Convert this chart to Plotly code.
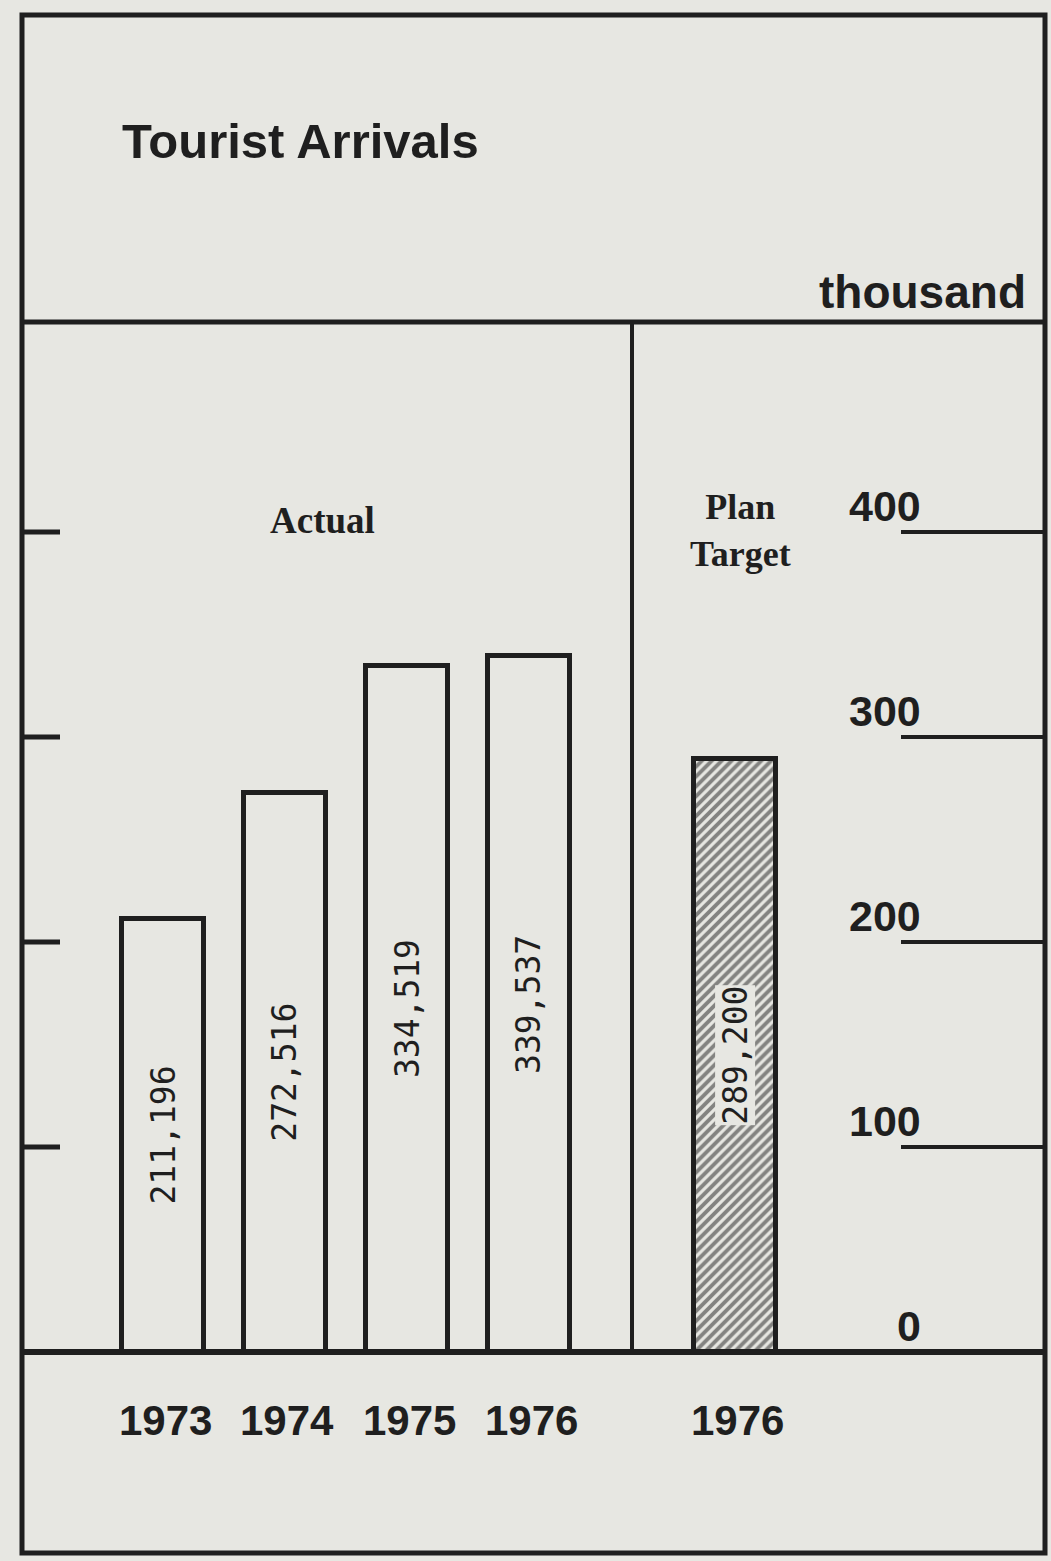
import plotly.graph_objects as go

# ---------------- data ----------------
years_actual = ["1973", "1974", "1975", "1976"]
arrivals_actual = [211196, 272516, 334519, 339537]
year_plan = ["1976"]
arrivals_plan = [289200]
y_tick_values = [0, 100, 200, 300, 400]          # thousand
left_tick_values = [100, 200, 300, 400]
title_text = "Tourist Arrivals"
unit_text = "thousand"
actual_label = "Actual"
plan_label = "Plan<br>Target"

# ---------------- style ----------------
BG = "#e7e7e2"
INK = "#1f1f1f"
SANS = "Liberation Sans, Arial, sans-serif"
SERIF = "Liberation Serif, DejaVu Serif, serif"
MONO = "DejaVu Sans Mono, Liberation Mono, monospace"

W, H = 1051, 1561
ML, MR, MT, MB = 22, 6, 322, 209
pw = W - ML - MR
ph = H - MT - MB

# category slots on a numeric axis (layout positions)
slot_actual = [i for i in range(len(years_actual))]
slot_plan = [len(years_actual) + 0.69]
x_range = [-1.156, 7.23]
y_range = [0, 502.4]
bar_w = 0.67

def to_k(v):
    return v / 1000.0

def px_x(px):
    return (px - ML) / pw

def px_y(py):
    return (MT + ph - py) / ph

fig = go.Figure()
fig.add_trace(go.Bar(
    x=slot_actual, y=[to_k(v) for v in arrivals_actual], width=bar_w,
    marker=dict(color=BG, line=dict(color=INK, width=5)),
    hoverinfo="skip", showlegend=False))
fig.add_trace(go.Bar(
    x=slot_plan, y=[to_k(v) for v in arrivals_plan], width=bar_w,
    marker=dict(color=BG, line=dict(color=INK, width=5),
                pattern=dict(shape="/", fgcolor=INK, bgcolor=BG, size=7, solidity=0.55)),
    hoverinfo="skip", showlegend=False))

ann = []
# values inside bars (vertical)
for x, v in zip(slot_actual, arrivals_actual):
    ann.append(dict(x=x, y=to_k(v) / 2, xref="x", yref="y", text=f"{v:,}",
                    textangle=-90, showarrow=False, font=dict(family=MONO, size=33, color=INK)))
for x, v in zip(slot_plan, arrivals_plan):
    ann.append(dict(x=x, y=to_k(v) / 2, xref="x", yref="y", text=f"{v:,}",
                    textangle=-90, showarrow=False, bgcolor=BG, borderpad=0,
                    font=dict(family=MONO, size=33, color=INK)))
# year labels under baseline
for x, t in zip(slot_actual + slot_plan, years_actual + year_plan):
    ann.append(dict(x=x + 0.02, y=px_y(1420), xref="x", yref="paper", text=t, showarrow=False,
                    yanchor="middle", xanchor="center",
                    font=dict(family=SANS, size=42, color=INK, weight="bold")))
# right-hand scale numbers, sitting above their tick lines
for t in y_tick_values:
    ann.append(dict(x=px_x(923), y=t, xref="paper", yref="y", text=str(t), showarrow=False,
                    xanchor="right", yanchor="bottom", yshift=0,
                    font=dict(family=SANS, size=43, color=INK, weight="bold")))
# titles and headers
ann.append(dict(x=px_x(120), y=px_y(141), xref="paper", yref="paper",
                text=title_text, showarrow=False, xanchor="left", yanchor="middle",
                font=dict(family=SANS, size=49, color=INK, weight="bold")))
ann.append(dict(x=px_x(1028), y=px_y(292), xref="paper", yref="paper",
                text=unit_text, showarrow=False, xanchor="right", yanchor="middle",
                font=dict(family=SANS, size=46, color=INK, weight="bold")))
ann.append(dict(x=px_x(322), y=px_y(520), xref="paper", yref="paper", text=actual_label, showarrow=False,
                xanchor="center", yanchor="middle",
                font=dict(family=SERIF, size=37, color=INK, weight="bold")))
ann.append(dict(x=px_x(740), y=px_y(530), xref="paper", yref="paper", text=plan_label, showarrow=False,
                xanchor="center", yanchor="middle",
                font=dict(family=SERIF, size=36, color=INK, weight="bold")))

shapes = []
# outer frame
shapes.append(dict(type="rect", xref="paper", yref="paper", x0=0, x1=1,
                   y0=px_y(1553), y1=px_y(15), line=dict(color=INK, width=5)))
# header rule and baseline
shapes.append(dict(type="line", xref="paper", yref="paper", x0=0, x1=1, y0=1, y1=1,
                   line=dict(color=INK, width=5)))
shapes.append(dict(type="line", xref="paper", yref="paper", x0=0, x1=1, y0=0, y1=0,
                   line=dict(color=INK, width=6)))
# divider between actual and plan
shapes.append(dict(type="line", xref="paper", yref="paper", x0=px_x(632), x1=px_x(632),
                   y0=0, y1=1, line=dict(color=INK, width=4)))
# left ticks
for t in left_tick_values:
    shapes.append(dict(type="line", xref="paper", yref="y", x0=0, x1=px_x(60), y0=t, y1=t,
                       line=dict(color=INK, width=5)))
# right tick rules
for t in left_tick_values:
    shapes.append(dict(type="line", xref="paper", yref="y", x0=px_x(901), x1=1, y0=t, y1=t,
                       line=dict(color=INK, width=4)))

fig.update_layout(
    width=W, height=H, autosize=False,
    margin=dict(l=ML, r=MR, t=MT, b=MB, pad=0),
    paper_bgcolor=BG, plot_bgcolor=BG,
    xaxis=dict(range=x_range, visible=False, fixedrange=True),
    yaxis=dict(range=y_range, visible=False, fixedrange=True),
    bargap=0, annotations=ann, shapes=shapes, showlegend=False,
)

fig.write_html(
    "out.html",
    config={"displayModeBar": False},
    post_script="document.body.style.margin='0';document.body.style.background='%s';" % BG,
)
